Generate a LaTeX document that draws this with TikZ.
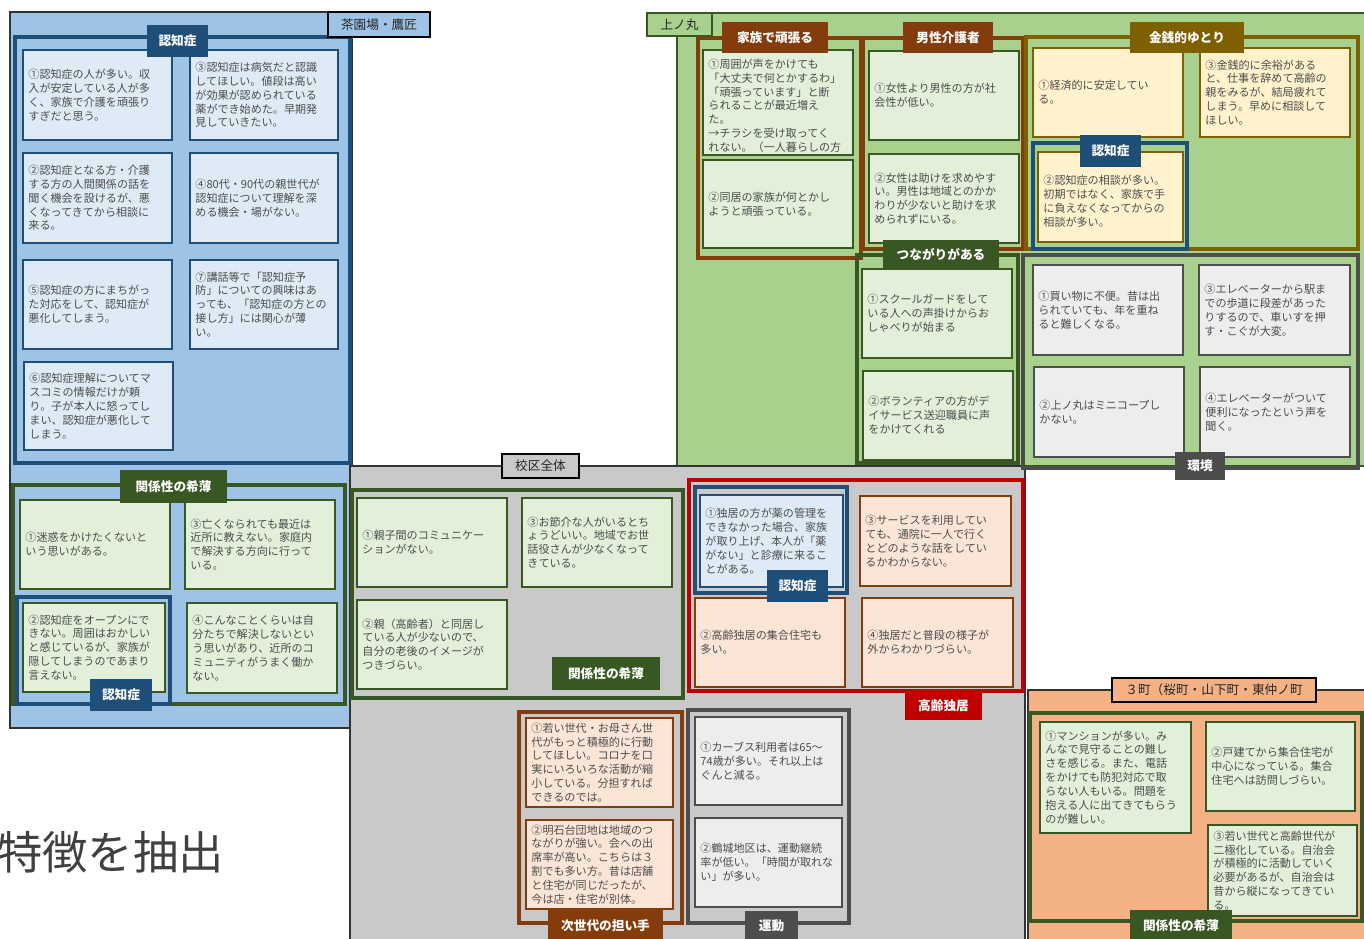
\documentclass[tikz,border=0pt]{standalone}
\usepackage{fontspec}
\setmainfont{Noto Sans CJK JP}
\usepackage{tikz}
\usetikzlibrary{fit, positioning}

\definecolor{dkblue}{HTML}{1F4E79}
\definecolor{ltblue}{HTML}{DEEBF7}
\definecolor{rgblue}{HTML}{9DC3E6}
\definecolor{dkgreen}{HTML}{385723}
\definecolor{ltgreen}{HTML}{E2F0D9}
\definecolor{rggreen}{HTML}{A9D18E}
\definecolor{brown1}{HTML}{843C0C}
\definecolor{peach1}{HTML}{FBE5D6}
\definecolor{olive1}{HTML}{7F6000}
\definecolor{cream1}{HTML}{FFF2CC}
\definecolor{rggray}{HTML}{C9C9C9}
\definecolor{dkgray}{HTML}{4D4D4D}
\definecolor{ltgray}{HTML}{EDEDED}
\definecolor{red1}{HTML}{C00000}
\definecolor{rgorange}{HTML}{F4B183}

\newcommand{\cardfont}{\fontsize{8.3}{10.4}\selectfont}
% box from two corners, text flush left inside
\newcommand{\cardbox}[5]{%
  \node[#2, fit={#3 #4}] (#1) {};
  \node[cardtext, anchor=west] (#1-t) at ([xshift=4.5pt]#1.west) {#5};}
% title tab, white text centred
\newcommand{\tabbox}[5]{%
  \node[tab=#2, fit={#3 #4}] (#1) {};
  \node[tabtext] (#1-t) at (#1.center) {#5};}
% area label
\newcommand{\areabox}[5]{%
  \node[regionlabel, #2, fit={#3 #4}] (#1) {};
  \node[regionlabeltext] (#1-t) at (#1.center) {#5};}

\tikzset{
  region/.style={draw=black!80, line width=0.8pt, inner sep=0pt},
  regionlabel/.style={draw=black, line width=1pt, inner sep=0pt},
  regionlabeltext/.style={inner sep=0pt, text=black!85, font=\fontsize{9.5}{11}\selectfont},
  frame/.style={draw=#1, line width=3pt, inner sep=0pt},
  tab/.style={fill=#1, inner sep=0pt},
  tabtext/.style={inner sep=0pt, text=white, font=\bfseries\fontsize{9.5}{11}\selectfont},
  card/.style 2 args={draw=#1, fill=#2, line width=1.2pt, inner sep=0pt},
  cardtext/.style={inner sep=0pt, align=left, text=black!70, font=\cardfont},
  cardblue/.style={card={dkblue}{ltblue}},
  cardgreen/.style={card={dkgreen}{ltgreen}},
  cardpeach/.style={card={brown1}{peach1}},
  cardcream/.style={card={olive1}{cream1}},
  cardgray/.style={card={dkgray}{ltgray}},
}

\begin{document}
\begin{tikzpicture}[x=0.75pt, y=-0.75pt]
  \useasboundingbox (0,0) rectangle (1364,939);

  % areas
  \node[region, fill=rgblue, fit={(10,12) (352,728)}] (r-chaen) {};
  \node[region, draw=dkgreen, fill=rggreen, fit={(677,13) (1368,466)}] (r-uenomaru) {};
  \node[region, fill=rggray, fit={(350,466) (1025,945)}] (r-kouku) {};
  \node[region, fill=rgorange, fit={(1028,690) (1368,945)}] (r-sancho) {};

  % 茶園場・鷹匠
  \node[frame=dkblue, fit={(15,37) (350,463)}] (f-ninchi1) {};
  \cardbox{ca1}{cardblue}{(23,50)}{(172,140)}{①認知症の人が多い。収\\入が安定している人が多\\く、家族で介護を頑張り\\すぎだと思う。}
  \cardbox{ca3}{cardblue}{(190,50)}{(338,140)}{③認知症は病気だと認識\\してほしい。値段は高い\\が効果が認められている\\薬ができ始めた。早期発\\見していきたい。}
  \cardbox{ca2}{cardblue}{(23,153)}{(172,243)}{②認知症となる方・介護\\する方の人間関係の話を\\聞く機会を設けるが、悪\\くなってきてから相談に\\来る。}
  \cardbox{ca4}{cardblue}{(190,153)}{(338,243)}{④80代・90代の親世代が\\認知症について理解を深\\める機会・場がない。}
  \cardbox{ca5}{cardblue}{(23,260)}{(172,349)}{⑤認知症の方にまちがっ\\た対応をして、認知症が\\悪化してしまう。}
  \cardbox{ca7}{cardblue}{(190,260)}{(338,349)}{⑦講話等で「認知症予\\防」についての興味はあ\\っても、「認知症の方との\\接し方」には関心が薄\\い。}
  \cardbox{ca6}{cardblue}{(24,362)}{(173,450)}{⑥認知症理解についてマ\\スコミの情報だけが頼\\り。子が本人に怒ってし\\まい、認知症が悪化して\\しまう。}
  \tabbox{t-ninchi1}{dkblue}{(147,25)}{(208,57)}{認知症}

  \node[frame=dkgreen, fit={(13,485) (345,704)}] (f-kankei1) {};
  \node[frame=dkblue, fit={(17,597) (170,704)}] (f-ninchi2) {};
  \cardbox{cb1}{cardgreen}{(20,500)}{(170,589)}{①迷惑をかけたくないと\\いう思いがある。}
  \cardbox{cb3}{cardgreen}{(185,500)}{(335,589)}{③亡くなられても最近は\\近所に教えない。家庭内\\で解決する方向に行って\\いる。}
  \cardbox{cb2}{cardgreen}{(23,603)}{(165,692)}{②認知症をオープンにで\\きない。周囲はおかしい\\と感じているが、家族が\\隠してしまうのであまり\\言えない。}
  \cardbox{cb4}{cardgreen}{(187,603)}{(337,693)}{④こんなことくらいは自\\分たちで解決しないとい\\う思いがあり、近所のコ\\ミュニティがうまく働か\\ない。}
  \tabbox{t-kankei1}{dkgreen}{(120,470)}{(227,503)}{関係性の希薄}
  \tabbox{t-ninchi2}{dkblue}{(90,679)}{(152,711)}{認知症}

  % 校区全体
  \node[frame=dkgreen, fit={(352,490) (683,698)}] (f-kankei2) {};
  \cardbox{cc1}{cardgreen}{(357,498)}{(507,587)}{①親子間のコミュニケー\\ションがない。}
  \cardbox{cc3}{cardgreen}{(522,498)}{(672,587)}{③お節介な人がいるとち\\ょうどいい。地域でお世\\話役さんが少なくなって\\きている。}
  \cardbox{cc2}{cardgreen}{(357,600)}{(507,689)}{②親（高齢者）と同居し\\ている人が少ないので、\\自分の老後のイメージが\\つきづらい。}
  \tabbox{t-kankei2}{dkgreen}{(552,657)}{(660,690)}{関係性の希薄}

  \node[frame=red1, fit={(689,480) (1023,691)}] (f-dokkyo) {};
  \node[frame=dkblue, fit={(695,487) (847,593)}] (f-ninchi3) {};
  \cardbox{cd1}{cardblue}{(700,495)}{(843,587)}{①独居の方が薬の管理を\\できなかった場合、家族\\が取り上げ、本人が「薬\\がない」と診療に来るこ\\とがある。}
  \cardbox{cd3}{cardpeach}{(860,496)}{(1011,586)}{③サービスを利用してい\\ても、通院に一人で行く\\とどのような話をしてい\\るかわからない。}
  \cardbox{cd2}{cardpeach}{(695,598)}{(845,687)}{②高齢独居の集合住宅も\\多い。}
  \cardbox{cd4}{cardpeach}{(862,598)}{(1013,687)}{④独居だと普段の様子が\\外からわかりづらい。}
  \tabbox{t-ninchi3}{dkblue}{(767,570)}{(828,602)}{認知症}
  \tabbox{t-dokkyo}{red1}{(905,692)}{(982,720)}{高齢独居}

  \node[frame=brown1, fit={(519,712) (682,923)}] (f-jisedai) {};
  \cardbox{ce1}{cardpeach}{(526,718)}{(673,807)}{①若い世代・お母さん世\\代がもっと積極的に行動\\してほしい。コロナを口\\実にいろいろな活動が縮\\小している。分担すれば\\できるのでは。}
  \cardbox{ce2}{cardpeach}{(526,820)}{(673,909)}{②明石台団地は地域のつ\\ながりが強い。会への出\\席率が高い。こちらは３\\割でも多い方。昔は店舗\\と住宅が同じだったが、\\今は店・住宅が別体。}
  \tabbox{t-jisedai}{brown1}{(548,910)}{(663,941)}{次世代の担い手}

  \node[frame=dkgray, fit={(688,710) (849,923)}] (f-undou) {};
  \cardbox{cf1}{cardgray}{(695,717)}{(842,805)}{①カーブス利用者は65～\\74歳が多い。それ以上は\\ぐんと減る。}
  \cardbox{cf2}{cardgray}{(695,818)}{(842,907)}{②鶴城地区は、運動継続\\率が低い。「時間が取れな\\い」が多い。}
  \tabbox{t-undou}{dkgray}{(745,911)}{(798,941)}{運動}

  % ３町
  \node[frame=dkgreen, fit={(1030,713) (1362,921)}] (f-kankei3) {};
  \cardbox{cg1}{cardgreen}{(1040,722)}{(1191,833)}{①マンションが多い。み\\んなで見守ることの難し\\さを感じる。また、電話\\をかけても防犯対応で取\\らない人もいる。問題を\\抱える人に出てきてもらう\\のが難しい。}
  \cardbox{cg2}{cardgreen}{(1206,722)}{(1355,811)}{②戸建てから集合住宅が\\中心になっている。集合\\住宅へは訪問しづらい。}
  \cardbox{cg3}{cardgreen}{(1208,825)}{(1357,916)}{③若い世代と高齢世代が\\二極化している。自治会\\が積極的に活動していく\\必要があるが、自治会は\\昔から縦になってきてい\\る。}
  \tabbox{t-kankei3}{dkgreen}{(1130,910)}{(1232,941)}{関係性の希薄}

  % 上ノ丸
  \node[frame=brown1, fit={(698,38) (861,258)}] (f-kazoku) {};
  \node[cardgreen, fit={(703,50) (853,155)}] (ch1) {};
  \node[cardtext, anchor=west] (ch1-t) at ([xshift=4.5pt, yshift=-2.5pt]ch1.west) {①周囲が声をかけても\\「大丈夫で何とかするわ」\\「頑張っています」と断\\られることが最近増え\\た。\\→チラシを受け取ってく\\れない。（一人暮らしの方};
  \cardbox{ch2}{cardgreen}{(703,160)}{(853,248)}{②同居の家族が何とかし\\ようと頑張っている。}
  \tabbox{t-kazoku}{brown1}{(722,22)}{(828,53)}{家族で頑張る}

  \node[frame=brown1, fit={(863,38) (1023,249)}] (f-dansei) {};
  \cardbox{ci1}{cardgreen}{(869,51)}{(1019,140)}{①女性より男性の方が社\\会性が低い。}
  \cardbox{ci2}{cardgreen}{(869,154)}{(1019,243)}{②女性は助けを求めやす\\い。男性は地域とのかか\\わりが少ないと助けを求\\められずにいる。}
  \tabbox{t-dansei}{brown1}{(903,22)}{(993,53)}{男性介護者}

  \node[frame=olive1, fit={(1026,37) (1358,249)}] (f-kinsen) {};
  \node[frame=dkblue, fit={(1033,143) (1187,249)}] (f-ninchi4) {};
  \cardbox{cj1}{cardcream}{(1033,48)}{(1183,137)}{①経済的に安定してい\\る。}
  \cardbox{cj3}{cardcream}{(1200,48)}{(1350,137)}{③金銭的に余裕がある\\と、仕事を辞めて高齢の\\親をみるが、結局疲れて\\しまう。早めに相談して\\ほしい。}
  \node[cardcream, fit={(1038,152) (1183,242)}] (cj2) {};
  \node[cardtext, anchor=west] (cj2-t) at ([xshift=4.5pt, yshift=-3pt]cj2.west) {②認知症の相談が多い。\\初期ではなく、家族で手\\に負えなくなってからの\\相談が多い。};
  \tabbox{t-kinsen}{olive1}{(1130,22)}{(1244,53)}{金銭的ゆとり}
  \tabbox{t-ninchi4}{dkblue}{(1080,135)}{(1141,167)}{認知症}

  \node[frame=dkgreen, fit={(857,255) (1018,463)}] (f-tsunagari) {};
  \cardbox{ck1}{cardgreen}{(862,269)}{(1012,358)}{①スクールガードをして\\いる人への声掛けからお\\しゃべりが始まる}
  \cardbox{ck2}{cardgreen}{(863,371)}{(1013,460)}{②ボランティアの方がデ\\イサービス送迎職員に声\\をかけてくれる}
  \tabbox{t-tsunagari}{dkgreen}{(883,240)}{(999,269)}{つながりがある}

  \node[frame=dkgray, fit={(1023,255) (1358,468)}] (f-kankyo) {};
  \cardbox{cl1}{cardgray}{(1033,265)}{(1183,355)}{①買い物に不便。昔は出\\られていても、年を重ね\\ると難しくなる。}
  \cardbox{cl3}{cardgray}{(1199,265)}{(1350,355)}{③エレベーターから駅ま\\での歩道に段差があった\\りするので、車いすを押\\す・こぐが大変。}
  \cardbox{cl2}{cardgray}{(1034,367)}{(1184,457)}{②上ノ丸はミニコープし\\かない。}
  \cardbox{cl4}{cardgray}{(1200,367)}{(1350,457)}{④エレベーターがついて\\便利になったという声を\\聞く。}
  \tabbox{t-kankyo}{dkgray}{(1175,452)}{(1225,480)}{環境}

  % area labels
  \areabox{l-chaen}{fill=rgblue}{(328,12)}{(430,37)}{茶園場・鷹匠}
  \areabox{l-uenomaru}{fill=rggreen, draw=dkgreen}{(647,13)}{(712,36)}{上ノ丸}
  \areabox{l-kouku}{fill=rggray}{(502,454)}{(579,478)}{校区全体}
  \areabox{l-sancho}{fill=rgorange}{(1112,678)}{(1316,702)}{３町（桜町・山下町・東仲ノ町}

  \node[anchor=west, inner sep=0pt, text=black!75, font=\fontsize{34}{40}\selectfont] (tokucho) at (-3,852) {特徴を抽出};
\end{tikzpicture}
\end{document}
